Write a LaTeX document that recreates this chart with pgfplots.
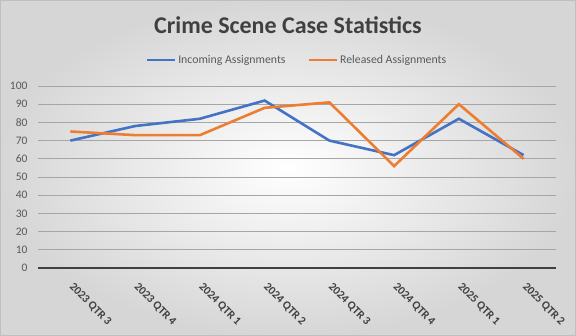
\documentclass[border=0pt]{standalone}
\usepackage{pgfplots}
\pgfplotsset{compat=1.18}
\usepackage{fontspec}
\setmainfont{Carlito}
\definecolor{incblue}{HTML}{4472C4}
\definecolor{relorange}{HTML}{ED7D31}
\definecolor{txtgray}{HTML}{595959}
\definecolor{dark}{HTML}{404040}
\begin{document}
\begin{tikzpicture}[x=1pt,y=1pt]
\shade[inner color=white, outer color=black!16] (0,0) rectangle (576,-336);
\draw[black!25, line width=0.8pt] (0.4,-0.4) rectangle (575.6,-335.6);
\node[font=\fontsize{24}{28}\selectfont\bfseries, text=dark] at (288,-25) {Crime Scene Case Statistics};
\begin{axis}[
  at={(38pt,-268pt)}, anchor=south west,
  scale only axis, width=518pt, height=182pt,
  xmin=-0.5, xmax=7.5, ymin=0, ymax=100,
  ytick={0,10,...,100},
  xtick={0,...,7},
  xticklabels={2023 QTR 3,2023 QTR 4,2024 QTR 1,2024 QTR 2,2024 QTR 3,2024 QTR 4,2025 QTR 1,2025 QTR 2},
  xticklabel style={xshift=4pt, yshift=-9pt, rotate=-45, anchor=north west, font=\fontsize{11.5}{13}\selectfont\bfseries, text=dark},
  yticklabel style={font=\fontsize{11.5}{13}\selectfont, text=txtgray, xshift=-7pt},
  /pgf/number format/assume math mode=true,
  axis x line*=bottom, axis y line*=left,
  x axis line style={dark, line width=2pt, -},
  y axis line style={draw=none},
  major tick length=0pt,
  ymajorgrids, grid style={black!35, line width=0.8pt},
  legend style={at={(0.5,1.0)}, yshift=17pt, anchor=south, draw=none, fill=none,
    legend columns=2, font=\fontsize{11.8}{14}\selectfont, text=txtgray,
    /tikz/every even column/.append style={column sep=20pt}},
  legend image code/.code={\draw[#1, line width=2.5pt] (0pt,0pt) -- (28pt,0pt);},
  clip=false,
]
\addplot[incblue, line width=2.6pt] coordinates {(0,70) (1,78) (2,82) (3,92) (4,70) (5,62) (6,82) (7,62)};
\addlegendentry{Incoming Assignments}
\addplot[relorange, line width=2.6pt] coordinates {(0,75) (1,73) (2,73) (3,88) (4,91) (5,56) (6,90) (7,60)};
\addlegendentry{Released Assignments}
\end{axis}
\end{tikzpicture}
\end{document}
